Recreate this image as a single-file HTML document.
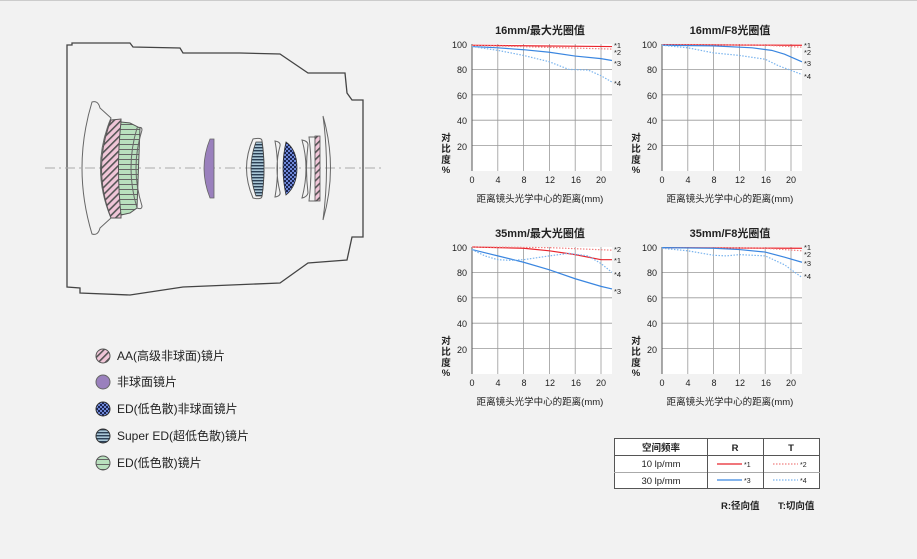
<!DOCTYPE html>
<html><head><meta charset="utf-8"><style>
body{margin:0;background:#f2f2f2;font-family:"Liberation Sans","Noto Sans CJK SC",sans-serif;}
svg text{font-family:"Liberation Sans","Noto Sans CJK SC",sans-serif;fill:#222}
</style></head><body>
<svg width="917" height="554" viewBox="0 0 917 554" xmlns="http://www.w3.org/2000/svg">
<defs>
<pattern id="pk" width="5" height="5" patternUnits="userSpaceOnUse" patternTransform="rotate(45)"><rect width="5" height="5" fill="#f0c6d8"/><rect width="1.6" height="5" fill="#555"/></pattern>
<pattern id="gr" width="6" height="5" patternUnits="userSpaceOnUse"><rect width="6" height="5" fill="#b9e0be"/><rect y="4" width="6" height="1" fill="#666"/></pattern>
<pattern id="sed" width="4" height="3" patternUnits="userSpaceOnUse"><rect width="4" height="3" fill="#a9c6d6"/><rect y="0" width="4" height="1.4" fill="#2b3f55"/></pattern>
<pattern id="chk" width="4" height="4" patternUnits="userSpaceOnUse"><rect width="4" height="4" fill="#6f88d8"/><rect width="2" height="2" fill="#1a2450"/><rect x="2" y="2" width="2" height="2" fill="#1a2450"/></pattern>
</defs>
<rect x="0" y="0" width="917" height="554" fill="#f2f2f2"/>
<line x1="0" y1="0.5" x2="917" y2="0.5" stroke="#ccc"/>
<path d="M67,50 L67,45 L72,45 L72,43 L130,43 L133,47 L180,48 L183,53 L240,53 L280,54 L308,73 L345,73 L347,93 L352,100 L363,100 L363,237 L352,237 L347,260 L308,263 L280,283 L183,287 L130,295 L80,293 L80,288 L67,287 Z" fill="none" stroke="#444" stroke-width="1.3"/>
<line x1="45" y1="168" x2="385" y2="168" stroke="#aaa" stroke-width="1" stroke-dasharray="10,4,2,4"/>
<path d="M92,102 Q98,100 100,108 L111,118 Q90,168 111,218 L100,228 Q98,236 92,234 Q72,168 92,102 Z" fill="none" stroke="#666" stroke-width="1"/>
<path d="M111,120 L121,119 L121,218 L111,218 Q92,168 111,120 Z" fill="url(#pk)" stroke="#555" stroke-width="1"/>
<path d="M121,122 L130,123 L140,128 L137,208 L130,213 L121,215 Q116,168 121,122 Z" fill="url(#gr)" stroke="#555" stroke-width="1"/>
<path d="M137,128 Q142,126 142,130 Q130,168 142,206 Q142,210 137,208 Q125,168 137,128 Z" fill="none" stroke="#666" stroke-width="1"/>
<path d="M210,139 L214,139 L214,198 L210,198 Q198,168 210,139 Z" fill="#9a80bd" stroke="#666" stroke-width="0.8"/>
<path d="M253,139 Q262,137 262,141 Q266,168 262,196 Q262,200 253,198 Q240,168 253,139 Z" fill="none" stroke="#666" stroke-width="1"/>
<path d="M256,142 L262,142 Q266,168 262,196 L256,196 Q246,168 256,142 Z" fill="url(#sed)" stroke="#444" stroke-width="0.8"/>
<path d="M275,141 Q281,142 280,146 Q274,168 280,192 Q281,196 275,197 Q280,168 275,141 Z" fill="none" stroke="#666" stroke-width="1"/>
<path d="M286,142 Q297,150 297,168 Q297,186 286,195 Q280,168 286,142 Z" fill="url(#chk)" stroke="#333" stroke-width="0.8"/>
<path d="M302,140 Q308,141 308,145 Q305,168 308,193 Q307,197 302,198 Q310,168 302,140 Z" fill="none" stroke="#666" stroke-width="1"/>
<path d="M309,137 L315,137 L316,201 L309,201 Q313,168 309,137 Z" fill="none" stroke="#666" stroke-width="1"/>
<path d="M315,136 L320,136 L320,201 L315,201 Z" fill="url(#pk)" stroke="#555" stroke-width="0.8"/>
<path d="M323,116 Q338,168 323,220 Q330,168 323,116 Z" fill="none" stroke="#666" stroke-width="1"/>
<g font-size="12">
<circle cx="103" cy="356" r="7" fill="url(#pk)" stroke="#555"/><text x="117" y="360">AA(高级非球面)镜片</text>
<circle cx="103" cy="382" r="7" fill="#9a80bd" stroke="#666"/><text x="117" y="386">非球面镜片</text>
<circle cx="103" cy="409" r="7" fill="url(#chk)" stroke="#333"/><text x="117" y="413">ED(低色散)非球面镜片</text>
<circle cx="103" cy="436" r="7" fill="url(#sed)" stroke="#333"/><text x="117" y="440">Super ED(超低色散)镜片</text>
<circle cx="103" cy="463" r="7" fill="url(#gr)" stroke="#555"/><text x="117" y="467">ED(低色散)镜片</text>
</g>

<g id="c1">
<g transform="translate(472,44)">
<rect width="140" height="127" fill="#fff"/>
<g stroke="#999" stroke-width="0.8">
<line x1="25.8" y1="0" x2="25.8" y2="127"/><line x1="51.6" y1="0" x2="51.6" y2="127"/><line x1="77.4" y1="0" x2="77.4" y2="127"/><line x1="103.2" y1="0" x2="103.2" y2="127"/><line x1="129" y1="0" x2="129" y2="127"/>
<line x1="0" y1="25.4" x2="140" y2="25.4"/><line x1="0" y1="50.8" x2="140" y2="50.8"/><line x1="0" y1="76.2" x2="140" y2="76.2"/><line x1="0" y1="101.6" x2="140" y2="101.6"/>
</g>
<line x1="0" y1="0" x2="0" y2="127" stroke="#555"/>
</g>
</g>
<g transform="translate(190,0)"><use href="#c1"/></g>
<g transform="translate(0,203)"><use href="#c1"/></g>
<g transform="translate(190,203)"><use href="#c1"/></g>

<g id="yl" font-size="9" text-anchor="end"><text x="467" y="48">100</text><text x="467" y="73">80</text><text x="467" y="99">60</text><text x="467" y="124">40</text><text x="467" y="150">20</text></g>
<use href="#yl" transform="translate(190,0)"/><use href="#yl" transform="translate(0,203)"/><use href="#yl" transform="translate(190,203)"/>
<g font-size="9" text-anchor="middle" id="xl"><text x="472" y="183">0</text><text x="498" y="183">4</text><text x="524" y="183">8</text><text x="550" y="183">12</text><text x="576" y="183">16</text><text x="601" y="183">20</text>
<text x="540" y="202" font-size="9.5">距离镜头光学中心的距离(mm)</text>
<text x="446" y="141" font-size="9.5" font-weight="bold">对</text><text x="446" y="152" font-size="9.5" font-weight="bold">比</text><text x="446" y="163" font-size="9.5" font-weight="bold">度</text><text x="446" y="173" font-size="9.5" font-weight="bold">%</text>
</g>
<use href="#xl" transform="translate(190,0)"/><use href="#xl" transform="translate(0,203)"/><use href="#xl" transform="translate(190,203)"/>
<g font-size="11" font-weight="bold" text-anchor="middle">
<text x="540" y="34">16mm/最大光圈值</text><text x="730" y="34">16mm/F8光圈值</text>
<text x="540" y="237">35mm/最大光圈值</text><text x="730" y="237">35mm/F8光圈值</text>
</g>

<g fill="none" stroke-width="1.2">
<g transform="translate(472,171) scale(6.45,-1.27)">
<polyline vector-effect="non-scaling-stroke" stroke="#e8242c" points="0,99 21.7,98"/>
<polyline vector-effect="non-scaling-stroke" stroke="#f08080" stroke-dasharray="1.5,1.5" points="0,99 21.7,96"/>
<polyline vector-effect="non-scaling-stroke" stroke="#3a86e0" points="0,98 4,97 8,95.5 12,93.5 16,90.5 20,88.5 21.7,87"/>
<polyline vector-effect="non-scaling-stroke" stroke="#7ab4ee" stroke-dasharray="1.5,1.5" points="0,98 4,95 8,91 12,86 15,80 18,79.5 20,75 21.7,70"/>
</g>
<g transform="translate(662,171) scale(6.45,-1.27)">
<polyline vector-effect="non-scaling-stroke" stroke="#e8242c" points="0,99.5 21.7,99"/>
<polyline vector-effect="non-scaling-stroke" stroke="#f08080" stroke-dasharray="1.5,1.5" points="0,99.5 16,99 21.7,97.5"/>
<polyline vector-effect="non-scaling-stroke" stroke="#3a86e0" points="0,99 8,98.5 14,97 17,95 19,92 21.7,86"/>
<polyline vector-effect="non-scaling-stroke" stroke="#7ab4ee" stroke-dasharray="1.5,1.5" points="0,99 4,97 8,93 12,91 16,88 18,83 21.7,76"/>
</g>
<g transform="translate(472,374) scale(6.45,-1.27)">
<polyline vector-effect="non-scaling-stroke" stroke="#e8242c" points="0,100 8,99 12,97 16,94 20,90 21.7,90"/>
<polyline vector-effect="non-scaling-stroke" stroke="#f08080" stroke-dasharray="1.5,1.5" points="0,100 12,99.5 21.7,97.5"/>
<polyline vector-effect="non-scaling-stroke" stroke="#3a86e0" points="0,98 4,93 8,88 12,82 16,75 20,69 21.7,67"/>
<polyline vector-effect="non-scaling-stroke" stroke="#7ab4ee" stroke-dasharray="1.5,1.5" points="0,98 2,93 4,90 6,89.5 8,90 12,93 15,95 18,93 20,87 21.7,80"/>
</g>
<g transform="translate(662,374) scale(6.45,-1.27)">
<polyline vector-effect="non-scaling-stroke" stroke="#e8242c" points="0,99.5 21.7,99"/>
<polyline vector-effect="non-scaling-stroke" stroke="#f08080" stroke-dasharray="1.5,1.5" points="0,99.5 16,99 21.7,97"/>
<polyline vector-effect="non-scaling-stroke" stroke="#3a86e0" points="0,99.5 8,99 12,98 16,96 19,92 21.7,88"/>
<polyline vector-effect="non-scaling-stroke" stroke="#7ab4ee" stroke-dasharray="1.5,1.5" points="0,99 4,97 8,93.5 10,93 12,94 16,93 19,86 21.7,76"/>
</g>
</g>
<g font-size="7.5">
<text x="614" y="48">*1</text><text x="614" y="55">*2</text><text x="614" y="66">*3</text><text x="614" y="86">*4</text>
<text x="804" y="48">*1</text><text x="804" y="55">*2</text><text x="804" y="66">*3</text><text x="804" y="79">*4</text>
<text x="614" y="252">*2</text><text x="614" y="263">*1</text><text x="614" y="277">*4</text><text x="614" y="294">*3</text>
<text x="804" y="250">*1</text><text x="804" y="257">*2</text><text x="804" y="266">*3</text><text x="804" y="279">*4</text>
</g>
<g>
<rect x="614.5" y="438.5" width="205" height="50" fill="#fff" stroke="#555"/>
<line x1="614" y1="455.5" x2="820" y2="455.5" stroke="#555"/>
<line x1="614" y1="472.5" x2="820" y2="472.5" stroke="#aaa"/>
<line x1="707.5" y1="438" x2="707.5" y2="489" stroke="#555"/>
<line x1="763.5" y1="438" x2="763.5" y2="489" stroke="#555"/>
<g font-size="9.5" text-anchor="middle"><text x="661" y="451" font-weight="bold">空间频率</text><text x="735" y="451" font-weight="bold">R</text><text x="791" y="451" font-weight="bold">T</text>
<text x="661" y="467">10 lp/mm</text><text x="661" y="484">30 lp/mm</text></g>
<line x1="717" y1="464" x2="742" y2="464" stroke="#e8242c" stroke-width="1.2"/>
<line x1="773" y1="464" x2="798" y2="464" stroke="#f08080" stroke-width="1.2" stroke-dasharray="1.5,1.5"/>
<line x1="717" y1="480" x2="742" y2="480" stroke="#3a86e0" stroke-width="1.2"/>
<line x1="773" y1="480" x2="798" y2="480" stroke="#7ab4ee" stroke-width="1.2" stroke-dasharray="1.5,1.5"/>
<g font-size="7"><text x="744" y="467">*1</text><text x="800" y="467">*2</text><text x="744" y="483">*3</text><text x="800" y="483">*4</text></g>
<g font-size="9.5" font-weight="bold"><text x="721" y="509">R:径向值</text><text x="778" y="509">T:切向值</text></g>
</g>
</svg>
</body></html>
